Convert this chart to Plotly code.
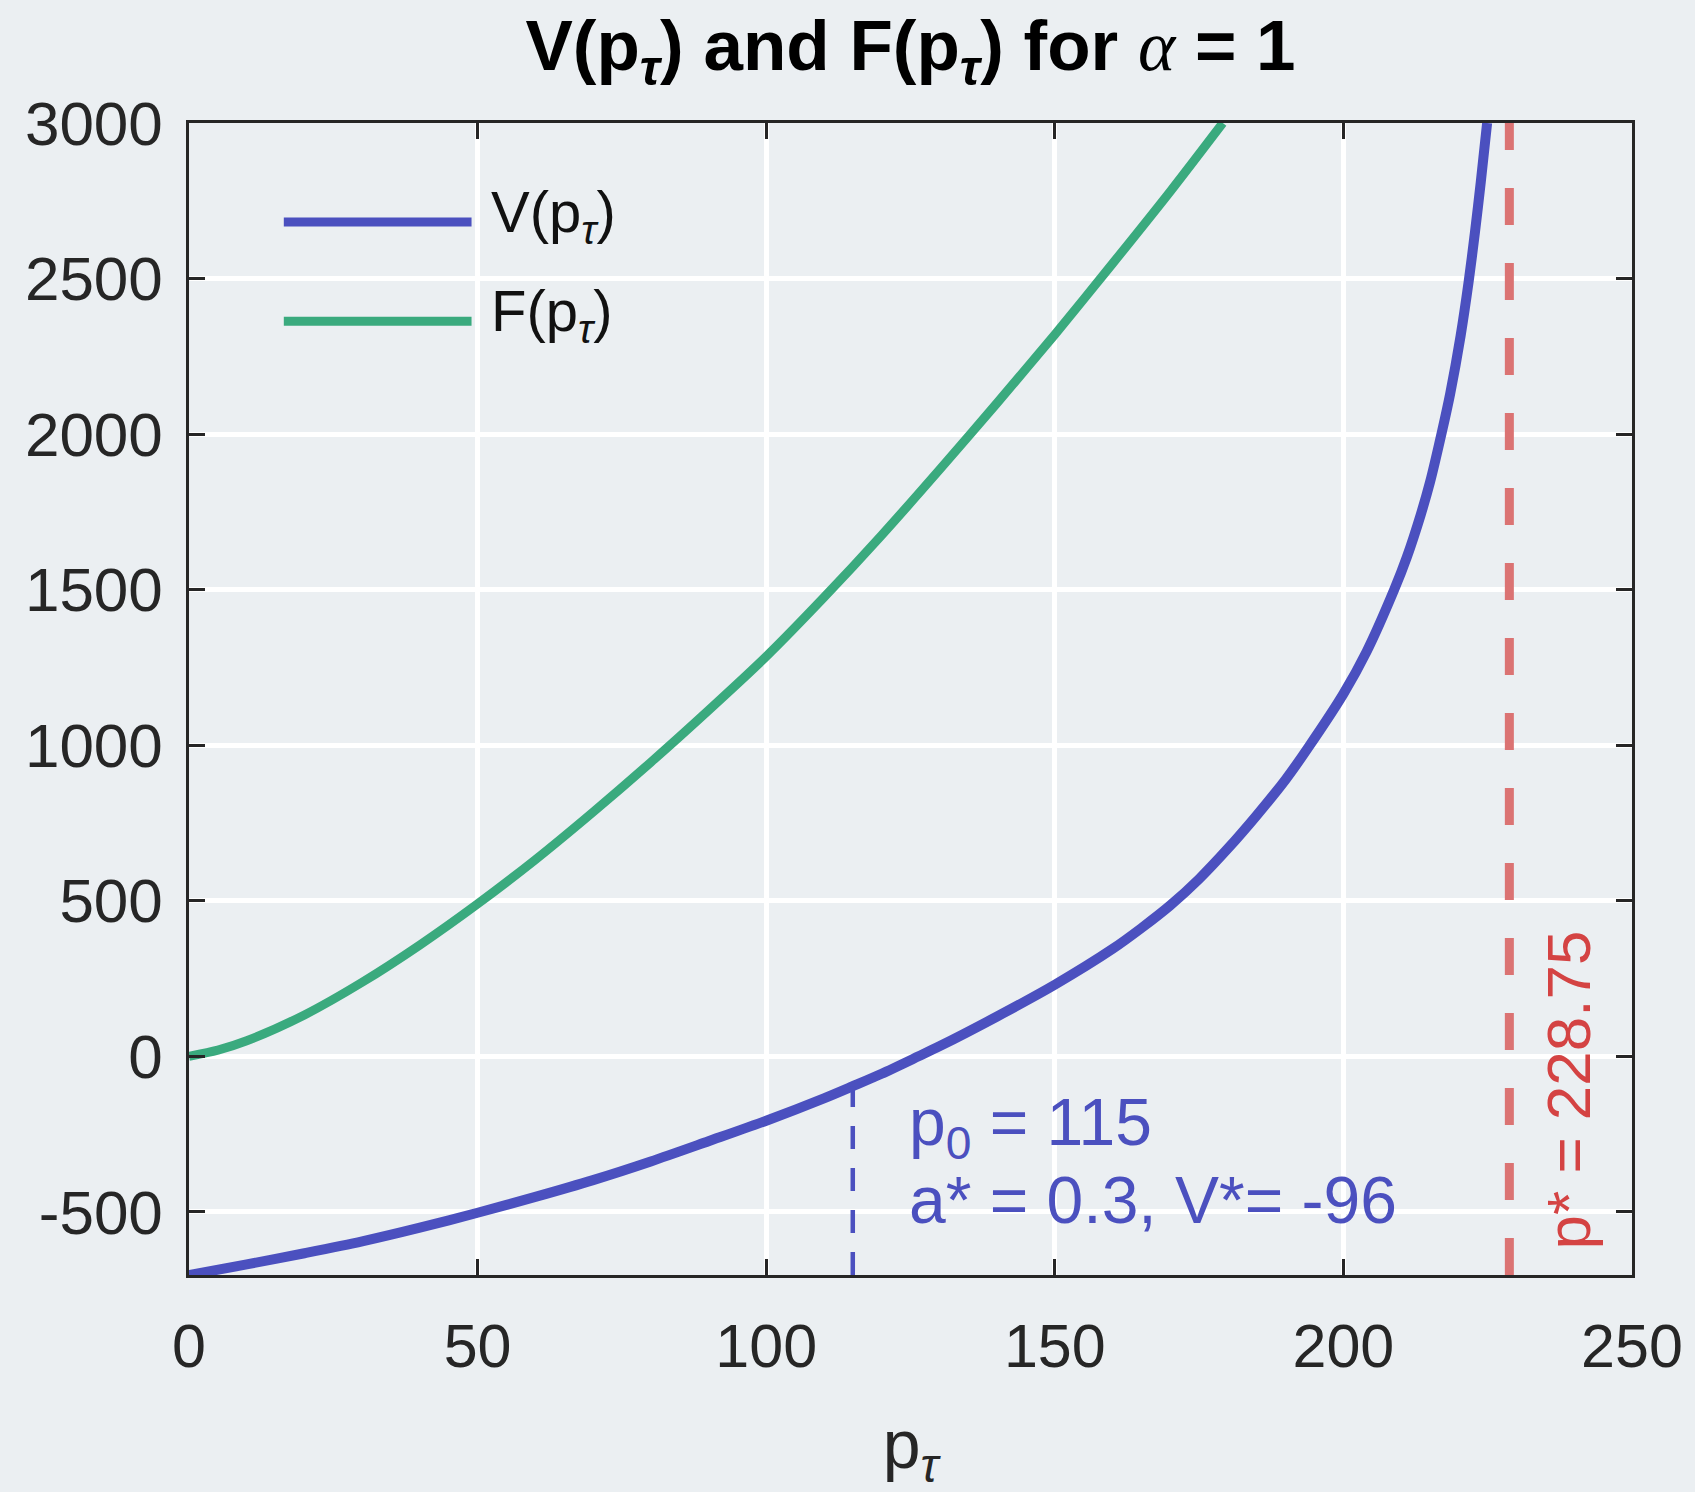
import plotly.graph_objects as go

# ---------------- data ----------------
p_V = [0, 10, 20, 30, 40, 50, 60, 70, 80, 90, 100, 110, 115, 120, 126.4, 130,
       140, 150, 160, 165, 170, 175, 180, 185, 190, 194, 200, 204, 208.8, 211,
       213.4, 215, 217.1, 218.5, 220.3, 221.7, 222.8, 223.8, 224.9]
V_vals = [-703, -669, -633, -595, -551, -503, -452, -398, -338, -273, -207,
          -135, -96, -56, 0, 32, 128, 230, 345, 412, 485, 570, 668, 775, 890,
          995, 1165, 1300, 1500, 1605, 1741, 1845, 2010, 2130, 2315, 2490,
          2650, 2810, 3000]

p_F = [0, 5, 10, 20, 30, 40, 50, 60, 70, 80, 90, 100, 110, 120, 130, 140,
       150, 160, 170, 179.1]
F_vals = [0, 20, 50, 133, 238, 358, 490, 632, 785, 945, 1112, 1285, 1475,
          1675, 1885, 2100, 2320, 2548, 2780, 3000]

p0 = 115
V_star = -96
a_star = 0.3
p_star = 228.75

x_ticks = [0, 50, 100, 150, 200, 250]
x_tick_labels = ["0", "50", "100", "150", "200", "250"]
y_ticks = [-500, 0, 500, 1000, 1500, 2000, 2500, 3000]
y_tick_labels = ["-500", "0", "500", "1000", "1500", "2000", "2500", "3000"]
x_range = [0, 250]
y_range = [-703, 3000]

# ---------------- styles ----------------
BG = "#EBEFF2"
BLUE = "#4B50BF"
GREEN = "#3AAA7E"
RED_LINE = "#DB7373"
RED_TEXT = "#D44343"
AX = "#262626"
FONT = "Liberation Sans, Arial, Helvetica, sans-serif"
TAU = "p<sub><i>τ</i></sub>"

fig = go.Figure()

fig.add_trace(go.Scatter(x=p_V, y=V_vals, mode="lines", name="V(" + TAU + ")",
                         line=dict(color=BLUE, width=10, shape="spline",
                                   smoothing=0.8),
                         showlegend=False, cliponaxis=True))
fig.add_trace(go.Scatter(x=p_F, y=F_vals, mode="lines", name="F(" + TAU + ")",
                         line=dict(color=GREEN, width=9, shape="spline",
                                   smoothing=0.8),
                         showlegend=False, cliponaxis=True))

# vertical dashed lines
fig.add_shape(type="line", xref="x", yref="y", x0=p0, x1=p0,
              y0=y_range[0], y1=V_star,
              line=dict(color=BLUE, width=4.5, dash="23px,19px"))
fig.add_shape(type="line", xref="x", yref="y", x0=p_star, x1=p_star,
              y0=y_range[0], y1=y_range[1],
              line=dict(color=RED_LINE, width=9, dash="37px,38px"))

# annotations
fig.add_annotation(x=124.4, y=-227, xref="x", yref="y", xanchor="left",
                   yanchor="middle", showarrow=False,
                   text="p<sub>0</sub> = %d" % p0,
                   font=dict(family=FONT, size=66, color=BLUE))
fig.add_annotation(x=124.4, y=-463, xref="x", yref="y", xanchor="left",
                   yanchor="middle", showarrow=False,
                   text="a* = %.1f, V*= %d" % (a_star, V_star),
                   font=dict(family=FONT, size=66, color=BLUE))
fig.add_annotation(x=239.0, y=-108, xref="x", yref="y", xanchor="center",
                   yanchor="middle", showarrow=False, textangle=-90,
                   text="p* = %.2f" % p_star,
                   font=dict(family=FONT, size=62, color=RED_TEXT))

# manual legend (long line samples like the reference)
leg_items = [("V(" + TAU + ")", BLUE, 0.914, 0.9189),
             ("F(" + TAU + ")", GREEN, 0.828, 0.8336)]
for label, col, ly, ty in leg_items:
    fig.add_shape(type="line", xref="paper", yref="paper", x0=0.0657,
                  x1=0.1958, y0=ly, y1=ly, line=dict(color=col, width=9))
    fig.add_annotation(x=0.2076, y=ty, xref="paper", yref="paper",
                       xanchor="left", yanchor="middle", showarrow=False,
                       text=label, font=dict(family=FONT, size=58, color="#111111"))

title_txt = ("<b>V(" + TAU + ") and F(" + TAU + ") for </b>"
             "<span style=\"font-family:'Liberation Serif';font-style:italic\">α</span>"
             "<b> = 1</b>")

fig.update_layout(
    width=1695, height=1492,
    margin=dict(l=189, r=61, t=123, b=217, pad=0),
    paper_bgcolor=BG, plot_bgcolor=BG,
    font=dict(family=FONT, color=AX),
    title=dict(text=title_txt, x=0.5, xref="paper", xanchor="center",
               y=1 - 45 / 1492, yref="container", yanchor="middle",
               font=dict(family=FONT, size=71, color="#000000")),
    showlegend=False,
)

axis_common = dict(showgrid=True, gridcolor="white", gridwidth=5,
                   zeroline=False, showline=True, linecolor=AX, linewidth=2.5,
                   mirror="ticks", ticks="inside", ticklen=16, tickwidth=2.5,
                   tickcolor=AX)

fig.update_xaxes(range=x_range, tickvals=x_ticks, ticktext=x_tick_labels,
                 ticklabelstandoff=16,
                 tickfont=dict(family=FONT, size=61, color=AX),
                 title=dict(text=TAU, font=dict(family=FONT, size=68, color=AX),
                            standoff=52),
                 **axis_common)
fig.update_yaxes(range=y_range, tickvals=y_ticks, ticktext=y_tick_labels,
                 ticklabelstandoff=11,
                 tickfont=dict(family=FONT, size=62, color=AX),
                 **axis_common)

fig.write_html("out.html")
